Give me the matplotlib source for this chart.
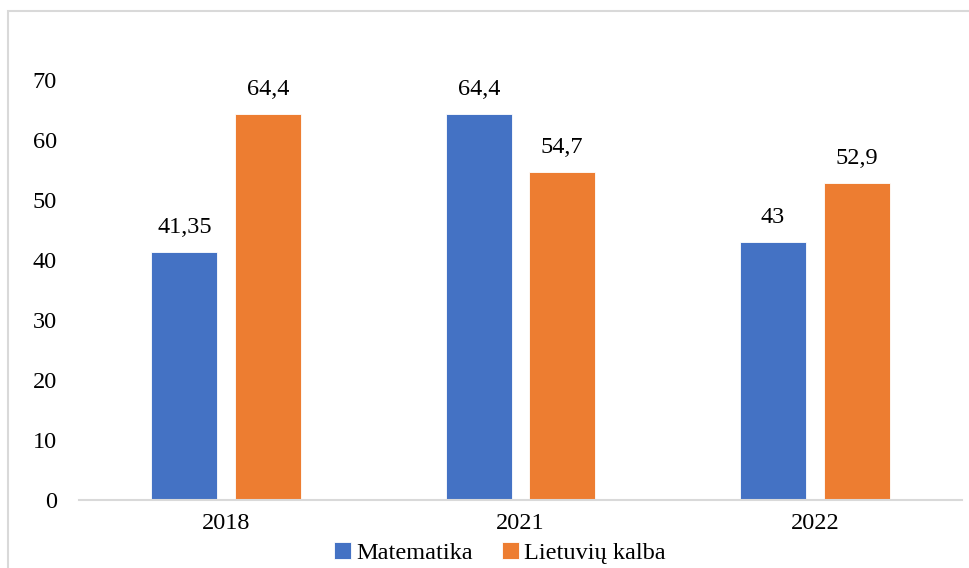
import numpy as np
import matplotlib.pyplot as plt
from matplotlib.patches import Rectangle

years = ["2018", "2021", "2022"]
matematika = [41.35, 64.4, 43]
lietuviu = [64.4, 54.7, 52.9]
series_names = ["Matematika", "Lietuvių kalba"]
colors = ["#4472C4", "#ED7D31"]

FS = 17.5
plt.rcParams['font.family'] = ['Liberation Serif', 'DejaVu Serif']
plt.rcParams['font.size'] = FS

fig = plt.figure(figsize=(9.7, 5.68), dpi=100)
ax = fig.add_axes([0.0814, 0.1197, 0.9104, 0.7393])

# outer frame (only left/top edges visible in the reference crop)
fig.patches.append(Rectangle((8 / 970, -0.5), 1.5, 1.5 - 11 / 568,
                             transform=fig.transFigure, fill=False,
                             edgecolor='#D9D9D9', linewidth=1.5))

x = np.arange(len(years))
width = 0.225
offset = 0.142

for vals, off, col, name in zip([matematika, lietuviu], [-offset, offset], colors, series_names):
    bars = ax.bar(x + off, vals, width, color=col, label=name,
                  edgecolor='white', linewidth=0.6)
    for b, v in zip(bars, vals):
        ax.annotate(f"{v:g}".replace('.', ','),
                    (b.get_x() + b.get_width() / 2, v),
                    xytext=(0, 10), textcoords='offset points',
                    ha='center', va='bottom', fontsize=FS)

ax.set_xlim(-0.5, 2.5)
ax.set_ylim(0, 70)
ax.set_yticks(range(0, 71, 10))
ax.set_xticks(x)
ax.set_xticklabels(years)
ax.tick_params(axis='both', length=0)
ax.tick_params(axis='y', pad=16)
ax.tick_params(axis='x', pad=9)

for s in ['top', 'right', 'left']:
    ax.spines[s].set_visible(False)
ax.spines['bottom'].set_color('#D9D9D9')
ax.spines['bottom'].set_linewidth(1.5)

fig.legend(loc='center', bbox_to_anchor=(500 / 970, 1 - 553 / 568), ncol=2,
           frameon=False, handlelength=0.7, handleheight=0.7,
           handletextpad=0.2, columnspacing=1.2, fontsize=FS,
           borderaxespad=0, borderpad=0)

fig.savefig('out.png', dpi=100, facecolor='white')
